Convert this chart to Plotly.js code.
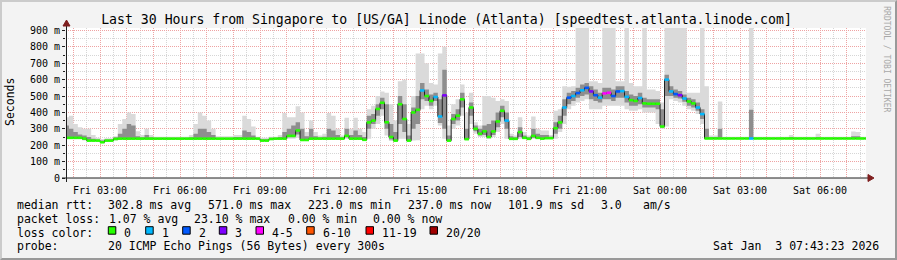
<!DOCTYPE html>
<html><head><meta charset="utf-8">
<script src="https://cdn.plot.ly/plotly-3.0.1.min.js"></script>
<style>
html,body{margin:0;padding:0;background:#f3f3f3;}
#wrap{position:relative;width:897px;height:260px;}
#chart{width:897px;height:260px;}
#frame{position:absolute;left:0;top:0;width:897px;height:260px;box-sizing:border-box;border-top:2px solid #cbcbcb;border-left:2px solid #cbcbcb;border-right:2px solid #999;border-bottom:2px solid #999;pointer-events:none;}
</style></head><body>
<div id="wrap"><div id="chart"></div><div id="frame"></div></div>
<script>
// ---- time grid: 10-minute steps, hours since Fri 00:00 ----
const startHour = 1 + 40/60;   // Fri 01:40
const stepHours = 1/6;         // 10 minutes
const rangeStart = 1.7231, rangeEnd = 31.7231; // Fri 01:43:23 .. Sat 07:43:23

// median RTT (ms)
const median = [
245,245,245,245,240,228,228,228,218,228,
228,238,240,240,240,240,240,240,240,240,
240,240,240,240,240,240,240,240,240,240,
240,240,240,240,240,240,240,240,240,240,
240,240,240,240,228,228,238,240,240,240,
257,257,290,232,232,240,240,240,240,240,
240,240,240,257,240,240,240,233,339,350,
421,459,340,250,228,450,360,228,400,416,
534,500,470,494,375,504,228,360,380,480,
237,430,300,270,285,250,284,345,410,350,
239,239,280,245,239,257,245,240,243,243,
304,339,430,490,500,518,535,550,528,505,
490,516,520,500,528,530,495,475,470,488,
455,453,453,453,314,600,528,512,505,485,
467,455,430,390,241,241,241,241,241,241,
241,241,241,241,241,241,241,241,241,241,
241,241,241,241,241,241,241,241,241,241,
241,241,241,241,241,241,241,241,241,241,
241];
// smoke: min ping
const smokeMin = [
238,238,238,238,228,224,224,224,214,222,
222,228,236,236,236,236,236,236,236,236,
236,236,236,236,236,236,236,236,236,236,
236,236,236,236,236,236,236,236,236,236,
236,236,236,236,224,224,232,236,236,236,
240,240,245,228,228,236,236,236,236,236,
236,236,236,240,236,236,236,228,240,300,
330,380,260,225,224,240,240,224,228,230,
420,440,420,440,320,240,224,300,320,380,
232,330,270,250,250,240,250,280,330,240,
235,235,239,238,235,239,238,236,238,238,
240,280,330,420,440,460,470,480,420,420,
420,440,440,440,440,440,420,410,410,420,
400,400,400,330,300,314,480,470,460,440,
420,410,390,330,236,236,236,236,236,236,
236,236,236,236,236,236,236,236,236,236,
236,236,236,236,236,236,236,236,236,236,
236,236,236,236,236,236,236,236,236,236,
236];
// smoke: lower edge of dense core
const coreLow = [
242,242,242,242,232,226,226,226,216,225,
225,233,238,238,238,238,238,238,238,238,
238,238,238,238,238,238,238,238,238,238,
238,238,238,238,238,238,238,238,238,238,
238,238,238,238,226,226,235,238,238,238,
248,248,265,230,230,238,238,238,238,238,
238,238,238,248,238,238,238,230,300,330,
380,420,300,235,226,330,280,226,300,330,
480,470,440,470,335,300,226,330,350,430,
234,380,285,260,262,244,262,310,370,300,
237,237,250,240,237,245,240,238,240,240,
270,300,380,450,470,490,500,510,480,470,
460,480,480,470,490,490,460,440,440,450,
430,430,430,420,308,500,500,490,485,465,
440,430,410,360,238,238,238,238,238,238,
238,238,238,238,238,238,238,238,238,238,
238,238,238,238,238,238,238,238,238,238,
238,238,238,238,238,238,238,238,238,238,
238];
// smoke: upper edge of dense core
const coreHigh = [
320,300,280,265,260,250,240,235,228,235,
235,248,270,300,330,320,255,248,262,248,
246,246,246,246,246,246,246,246,248,270,
300,300,280,262,246,246,246,246,250,250,
290,280,260,246,236,236,246,246,250,280,
300,320,340,300,255,300,255,248,252,300,
290,262,248,300,262,290,262,250,380,390,
450,490,450,330,280,500,450,260,430,500,
580,540,510,520,480,660,260,390,420,520,
300,460,320,300,320,330,350,400,440,400,
255,248,310,260,248,300,270,262,262,252,
340,380,480,520,530,550,570,580,560,540,
520,550,550,540,560,560,530,510,500,520,
490,480,480,480,420,630,560,540,530,510,
490,480,460,420,300,250,250,300,246,246,
246,246,246,246,416,246,246,246,246,246,
246,246,246,250,246,246,246,246,246,250,
246,246,246,246,246,246,246,255,255,246,
246];
// smoke: max ping
const smokeMax = [
370,380,330,310,300,300,262,245,238,242,
242,255,330,360,400,390,285,262,300,262,
252,252,252,252,252,252,252,252,262,330,
400,380,350,300,254,254,254,254,262,262,
380,360,314,252,245,245,252,252,262,396,
370,370,437,400,280,350,280,260,270,396,
380,300,260,367,300,367,300,280,420,440,
500,528,520,450,350,590,600,330,500,760,
760,700,580,570,760,800,320,450,480,570,
400,520,340,320,500,500,490,470,480,470,
270,260,370,280,260,375,300,290,290,263,
410,420,560,557,560,940,940,940,590,590,
580,940,940,940,590,590,940,580,560,560,
940,540,540,530,460,940,940,940,940,940,
520,520,520,940,559,260,260,467,252,252,
252,252,252,252,940,252,252,252,252,252,
252,252,252,263,252,252,252,252,252,270,
252,252,252,252,252,252,252,283,280,252,
252];
// lost pings out of 20
const loss = [
0,0,0,0,0,0,0,0,0,0,0,0,0,0,0,0,0,0,0,0,
0,0,0,0,0,0,0,0,0,0,0,0,0,0,0,0,0,0,0,0,
0,0,0,0,0,0,0,0,0,0,0,0,0,0,0,0,0,0,0,0,
0,0,0,0,0,0,0,0,0,0,0,0,0,0,0,0,0,0,0,0,
1,0,0,1,1,3,0,0,0,0,0,0,0,0,0,0,0,0,0,1,
0,0,0,0,0,0,0,0,0,0,0,0,1,2,1,2,1,2,3,2,
1,4,5,2,2,1,1,0,0,1,0,0,0,0,0,1,1,2,3,1,
0,0,1,1,0,0,0,0,0,0,0,0,0,0,1,0,0,0,0,0,
0,0,0,0,0,0,0,0,0,0,0,0,0,0,0,0,0,0,0,0,0];

// loss colour legend
const lossLabels = ['0','1','2','3','4-5','6-10','11-19','20/20'];
const lossUpper  = [0,1,2,3,5,10,19,20];
const lossColors = ['#26ff00','#00b8ff','#0059ff','#7f00ff','#ff00ff','#ff5500','#ff0000','#a10000'];

// axis labels
const xTickHours  = [3,6,9,12,15,18,21,24,27,30];
const xTickLabels = ['Fri 03:00','Fri 06:00','Fri 09:00','Fri 12:00','Fri 15:00','Fri 18:00','Fri 21:00','Sat 00:00','Sat 03:00','Sat 06:00'];
const yTickValues = [0,100,200,300,400,500,600,700,800,900];
const yTickLabels = ['0','100 m','200 m','300 m','400 m','500 m','600 m','700 m','800 m','900 m'];

// legend texts
const titleText = 'Last 30 Hours from Singapore to [US/GA] Linode (Atlanta) [speedtest.atlanta.linode.com]';
const rttStats  = ['302.8 ms avg','571.0 ms max','223.0 ms min','237.0 ms now','101.9 ms sd','3.0','am/s'];
const lossStats = ['1.07 % avg','23.10 % max','0.00 % min','0.00 % now'];
const probeText = '20 ICMP Echo Pings (56 Bytes) every 300s';
const stampText = 'Sat Jan  3 07:43:23 2026';

// ---------------------------------------------------------------
const N = median.length;
[smokeMin, coreLow, coreHigh, smokeMax, loss].forEach((a,k)=>{ if(a.length!==N) throw new Error('length mismatch '+k+': '+a.length+' vs '+N); });

const t = median.map((_,i)=> startHour + i*stepHours);
const tExt = t.concat([startHour + N*stepHours]);
const ext = a => a.concat([a[a.length-1]]);

const traces = [];
function band(lo, hi, color){
  traces.push({x:tExt, y:ext(lo), type:'scatter', mode:'lines', line:{width:0, shape:'hv'}, hoverinfo:'skip'});
  traces.push({x:tExt, y:ext(hi), type:'scatter', mode:'lines', line:{width:0, shape:'hv'}, fill:'tonexty', fillcolor:color, hoverinfo:'skip'});
}
band(smokeMin, smokeMax, '#dadada');
band(coreLow, coreHigh, '#8e8e8e');
traces.push({x:tExt, y:ext(median), type:'scatter', mode:'lines', line:{width:1, shape:'hv', color:'#202020'}, hoverinfo:'skip'});

function lossBin(l){ for(let k=0;k<lossUpper.length;k++){ if(l<=lossUpper[k]) return k; } return lossUpper.length-1; }
for(let k=0;k<lossColors.length;k++){
  const xs=[], ys=[];
  for(let i=0;i<N;i++){
    if(lossBin(loss[i])===k){ xs.push(tExt[i], tExt[i+1], null); ys.push(median[i], median[i], null); }
  }
  if(xs.length) traces.push({x:xs, y:ys, type:'scatter', mode:'lines', line:{width:2.6, color:lossColors[k]}, connectgaps:false, hoverinfo:'skip'});
}

// ---- layout helpers (pixel -> paper) ----
const L=66, T=28, W=800, H=150;
const PX = x => (x-L)/W;
const PY = y => (T+H-y)/H;
const nb = s => s.replace(/ /g,'\u00a0');
const FONT = 'DejaVu Sans Mono';
const ann = [];
function txt(s, x, y, o){
  ann.push(Object.assign({text:nb(s), xref:'paper', yref:'paper', x:PX(x), y:PY(y), xanchor:'left', yanchor:'middle', showarrow:false, borderpad:0, font:{family:FONT, size:11.5, color:'#000'}}, o||{}));
}
// legend rows
const rowY = [204.5, 218.5, 232.5, 246.5];
txt('median rtt:', 16, rowY[0]);
const rttX = [107.3, 206.7, 307.3, 407.3, 507.3, 600, 642.3];
rttStats.forEach((s,i)=>txt(s, rttX[i], rowY[0]));
txt('packet loss:', 16, rowY[1]);
const lossX = [107.7, 193.3, 286.7, 372.3];
lossStats.forEach((s,i)=>txt(s, lossX[i], rowY[1]));
txt('loss color:', 16, rowY[2]);
const boxX = [108.3, 145.7, 182.7, 219.3, 256, 306.7, 366, 430];
const shapes = [];
lossLabels.forEach((s,i)=>{
  shapes.push({type:'rect', xref:'paper', yref:'paper', x0:PX(boxX[i]), x1:PX(boxX[i]+7.5), y0:PY(234.2), y1:PY(226.7), fillcolor:lossColors[i], line:{color:'#000', width:1}});
  txt(s, boxX[i]+15, rowY[2]);
});
txt('probe:', 16, rowY[3]);
txt(probeText, 107.3, rowY[3]);
txt(stampText, 880, rowY[3], {xanchor:'right'});
// side labels
txt('Seconds', 10, 102, {xanchor:'center', textangle:-90});
txt('RRDTOOL / TOBI OETIKER', 886.7, 59, {xanchor:'center', textangle:90, font:{family:FONT, size:8, color:'#a8a8a8'}});

// axes lines and arrows
shapes.push({type:'line', xref:'paper', yref:'paper', x0:PX(62), x1:PX(868), y0:PY(178), y1:PY(178), line:{color:'#1f1f1f', width:1}});
shapes.push({type:'line', xref:'paper', yref:'paper', x0:PX(66.5), x1:PX(66.5), y0:PY(182), y1:PY(25), line:{color:'#1f1f1f', width:1}});
shapes.push({type:'path', xref:'paper', yref:'paper', path:`M ${PX(868)} ${PY(174.5)} L ${PX(874)} ${PY(178)} L ${PX(868)} ${PY(181.5)} Z`, fillcolor:'#7f1f1f', line:{color:'#7f1f1f', width:1}});
shapes.push({type:'path', xref:'paper', yref:'paper', path:`M ${PX(63)} ${PY(26)} L ${PX(66.5)} ${PY(20)} L ${PX(70)} ${PY(26)} Z`, fillcolor:'#7f1f1f', line:{color:'#7f1f1f', width:1}});

const hourVals=[], hourText=[];
for(let h=2; h<=31; h++){ hourVals.push(h); const k=xTickHours.indexOf(h); hourText.push(k>=0 ? xTickLabels[k] : ''); }

const MGRID='#eea3a3', GRID='#d6d6d6', DOT='1px,1px';
const layout = {
  width:897, height:260,
  margin:{l:L, r:897-L-W, t:T, b:260-T-H, pad:0},
  paper_bgcolor:'#f3f3f3', plot_bgcolor:'#ffffff',
  showlegend:false,
  title:{text:titleText, font:{family:FONT, size:13.2, color:'#000'}, xref:'container', yref:'container', x:446.5/897, xanchor:'center', y:1-19/260, yanchor:'middle'},
  xaxis:{range:[rangeStart, rangeEnd], tickmode:'array', tickvals:hourVals, ticktext:hourText,
    showgrid:true, gridcolor:MGRID, griddash:DOT, gridwidth:1, zeroline:false, showline:false,
    ticks:'outside', ticklen:3, tickcolor:'rgba(0,0,0,0)',
    tickfont:{family:FONT, size:10, color:'#000'},
    minor:{tickmode:'linear', tick0:0.5, dtick:1, showgrid:true, gridcolor:GRID, griddash:DOT, gridwidth:1, ticks:''}},
  yaxis:{range:[0,915], tickmode:'array', tickvals:yTickValues, ticktext:yTickLabels,
    showgrid:true, gridcolor:MGRID, griddash:DOT, gridwidth:1, zeroline:false, showline:false,
    ticks:'outside', ticklen:3, tickcolor:'#1f1f1f', tickwidth:1,
    tickfont:{family:FONT, size:10, color:'#000'},
    minor:{tickmode:'linear', tick0:50, dtick:100, showgrid:true, gridcolor:GRID, griddash:DOT, gridwidth:1, ticks:'outside', ticklen:2, tickcolor:'#1f1f1f'}},
  shapes:shapes, annotations:ann
};
Plotly.newPlot('chart', traces, layout, {staticPlot:true, displayModeBar:false});
</script>
</body></html>
